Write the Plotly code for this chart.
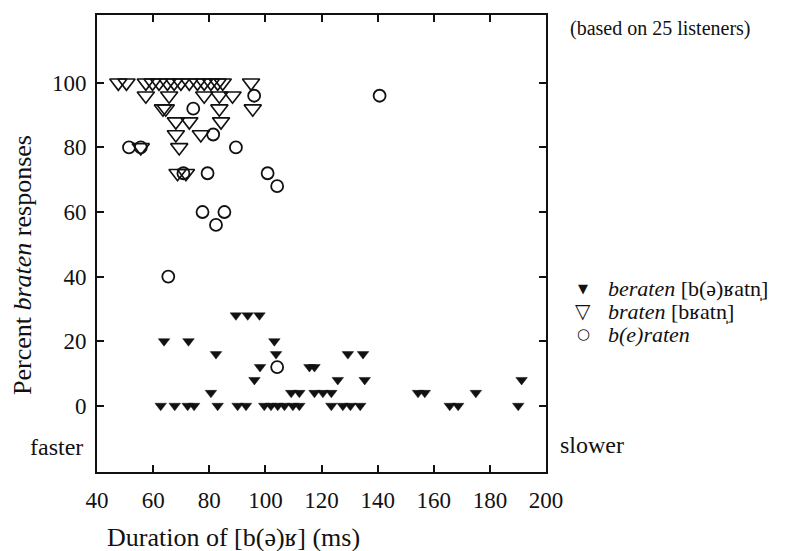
import plotly.graph_objects as go

# Identification of beraten / braten as a function of the duration of [b(ə)ʁ]
# Percentages are out of 25 listeners (steps of 4 %).

# beraten tokens (filled triangles): duration (ms) and percent "braten" responses
beraten_ms = [89.5, 93.7, 97.9,
              63.9, 72.6, 103.2,
              82.4, 103.8, 129.4, 134.8,
              98.1, 115.7, 117.5,
              96.1, 125.8, 135.4, 191.3,
              80.6, 109.2, 112.1, 117.5, 120.5, 123.5, 154.4, 156.8, 175.0,
              62.7, 67.7, 72.3, 74.6, 83.0, 90.1, 93.1, 99.6, 102.0, 104.4,
              106.8, 109.8, 112.1, 123.5, 127.6, 130.3, 133.8, 165.7, 168.7, 190.1]
beraten_pct = [28, 28, 28,
               20, 20, 20,
               16, 16, 16, 16,
               12, 12, 12,
               8, 8, 8, 8,
               4, 4, 4, 4, 4, 4, 4, 4, 4,
               0, 0, 0, 0, 0, 0, 0, 0, 0, 0,
               0, 0, 0, 0, 0, 0, 0, 0, 0, 0]

# braten tokens (open triangles)
braten_ms = [47.6, 50.5, 57.4, 59.8, 62.1, 65.1, 67.5, 69.9, 72.9, 75.8, 78.2, 80.6, 83.0, 84.8, 94.9,
             57.4, 65.7, 78.2, 83.6, 88.3,
             63.5, 64.5, 83.6, 95.5,
             68.1, 72.9, 84.2,
             68.1, 77.0,
             55.6, 69.3,
             68.7, 71.7]
braten_pct = [100, 100, 100, 100, 100, 100, 100, 100, 100, 100, 100, 100, 100, 100, 100,
              96, 96, 96, 96, 96,
              92, 92, 92, 92,
              88, 88, 88,
              84, 84,
              80, 80,
              72, 72]

# b(e)raten tokens (open circles)
beraten_e_ms = [96.0, 140.7, 74.3, 81.4, 51.4, 55.6, 89.5, 70.8, 79.4, 100.8,
                104.2, 77.6, 85.4, 82.4, 65.4, 104.2]
beraten_e_pct = [96, 96, 92, 84, 80, 80, 80, 72, 72, 72,
                 68, 60, 60, 56, 40, 12]

x_ticks = [40, 60, 80, 100, 120, 140, 160, 180, 200]
y_ticks = [0, 20, 40, 60, 80, 100]

# key entries: symbol glyph, glyph size, label
key_symbols = ["▼", "▽", "○"]
key_sizes = [13, 20, 15]
key_labels = ["<i>beraten</i> [b(ə)ʁatn̩]", "<i>braten</i> [bʁatn̩]", "<i>b(e)raten</i>"]

SERIF = "Liberation Serif"
INK = "#111111"

fig = go.Figure()

fig.add_trace(go.Scatter(
    x=beraten_ms, y=beraten_pct, mode="markers", showlegend=False,
    marker=dict(symbol="triangle-down", size=10, color=INK,
                line=dict(color=INK, width=0.5)),
))
fig.add_trace(go.Scatter(
    x=braten_ms, y=braten_pct, mode="markers", showlegend=False,
    marker=dict(symbol="triangle-down-open", size=15, color=INK,
                line=dict(color=INK, width=1.6)),
))
fig.add_trace(go.Scatter(
    x=beraten_e_ms, y=beraten_e_pct, mode="markers", showlegend=False,
    marker=dict(symbol="circle-open", size=12, color=INK,
                line=dict(color=INK, width=1.8)),
))

axis_common = dict(
    showline=True, linecolor=INK, linewidth=2, mirror="ticks",
    ticks="inside", ticklen=7, tickwidth=1.5, tickcolor=INK,
    showgrid=False, zeroline=False,
    tickfont=dict(family=SERIF, size=23, color=INK),
)

fig.update_xaxes(range=[40, 200], tickvals=x_ticks, ticklabelstandoff=6,
                 **axis_common)
fig.update_yaxes(range=[-20.5, 121], tickvals=y_ticks, ticklabelstandoff=4,
                 **axis_common)

W, H = 810, 551
L, R, T, B = 97, 264, 15, 79


def px_to_paper(px, py):
    return (px - L) / (W - L - R), 1 - (py - T) / (H - T - B)


def label(text, px, py, size, xanchor="center", angle=0, family=SERIF):
    x, y = px_to_paper(px, py)
    fig.add_annotation(
        text=text, showarrow=False, xref="paper", yref="paper",
        x=x, y=y, xanchor=xanchor, yanchor="middle", textangle=angle,
        font=dict(family=family, size=size, color=INK),
    )


label("Percent <i>braten</i> responses", 22, 265, 26, angle=-90)
label("Duration of [b(ə)ʁ] (ms)", 233, 537, 26)
label("faster", 56, 447, 24)
label("slower", 592, 445, 24)
label("(based on 25 listeners)", 660, 28, 20)

# key rows
for i, (sym, sz, txt) in enumerate(zip(key_symbols, key_sizes, key_labels)):
    row_y = 288 + 23 * i
    label(sym, 583, row_y, sz, family="DejaVu Sans")
    label(txt, 606, row_y, 22, xanchor="left")

fig.update_layout(
    width=W, height=H,
    margin=dict(l=L, r=R, t=T, b=B, pad=0),
    paper_bgcolor="white", plot_bgcolor="white",
    font=dict(family=SERIF, color=INK),
    showlegend=False,
)

fig.write_html("out.html")
